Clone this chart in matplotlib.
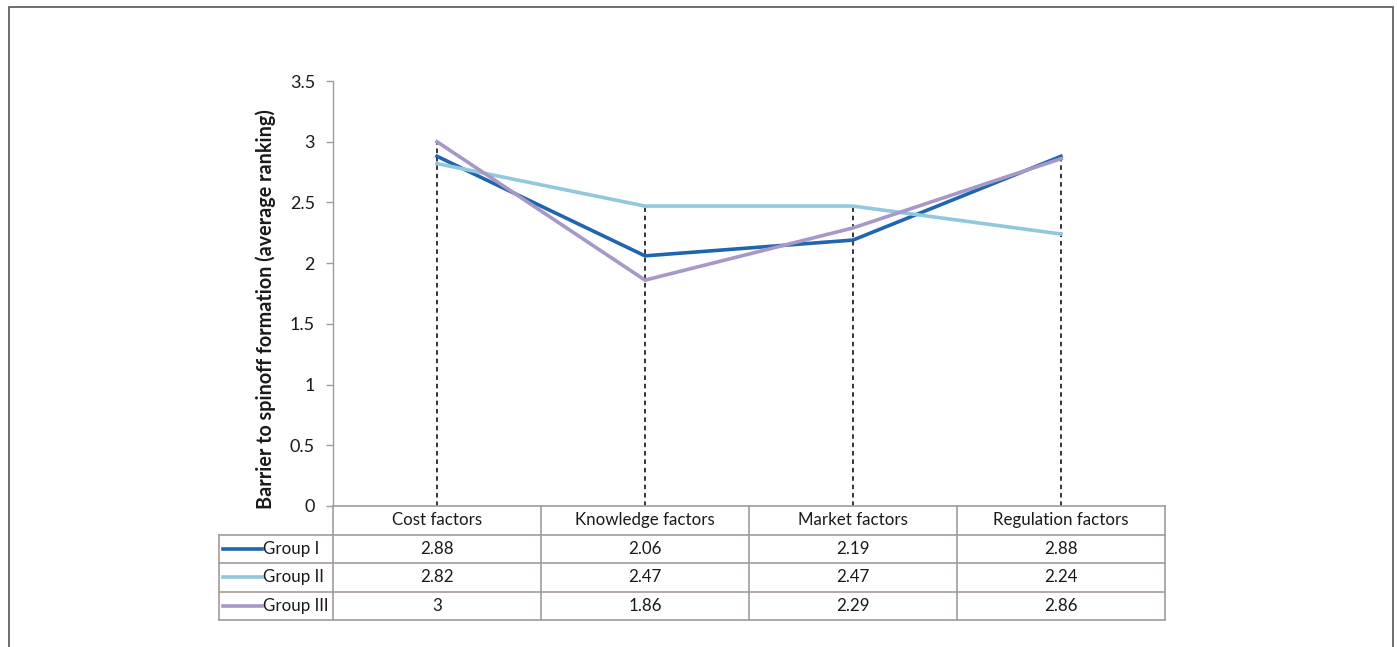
import matplotlib
matplotlib.use("Agg")
import matplotlib.pyplot as plt
from matplotlib.lines import Line2D
from matplotlib.patches import Rectangle

categories = ["Cost factors", "Knowledge factors", "Market factors", "Regulation factors"]
group_names = ["Group I", "Group II", "Group III"]
group_1 = [2.88, 2.06, 2.19, 2.88]
group_2 = [2.82, 2.47, 2.47, 2.24]
group_3 = [3.0, 1.86, 2.29, 2.86]
value_labels = [
    ["2.88", "2.06", "2.19", "2.88"],
    ["2.82", "2.47", "2.47", "2.24"],
    ["3", "1.86", "2.29", "2.86"],
]
y_ticks = [0, 0.5, 1, 1.5, 2, 2.5, 3, 3.5]
y_tick_labels = ["0", "0.5", "1", "1.5", "2", "2.5", "3", "3.5"]

series = [group_1, group_2, group_3]
colors = ["#2066ae", "#92c8dc", "#a898c8"]
grid_color = "#a39b98"
text_color = "#1a1a1a"

plt.rcParams["font.family"] = ["Lato", "DejaVu Sans"]

W, H = 1397, 647
fig = plt.figure(figsize=(W / 100, H / 100), dpi=100)
fig.patch.set_facecolor("white")

# outer frame
fig.add_artist(Rectangle((8.5 / W, -0.05), (1393 - 8.5) / W, 1.05 - 7.5 / H,
                         transform=fig.transFigure, fill=False,
                         edgecolor="#555555", linewidth=1.2))

ax_l, ax_r, ax_t, ax_b = 333, 1165, 81, 506
ax = fig.add_axes([ax_l / W, (H - ax_b) / H, (ax_r - ax_l) / W, (ax_b - ax_t) / H])
ax.set_xlim(-0.5, len(categories) - 0.5)
ax.set_ylim(0, 3.5)

x = list(range(len(categories)))

# dashed drop lines from the highest value at each category
for i in x:
    top = max(s[i] for s in series)
    ax.plot([i, i], [0, top], color="black", linestyle=(0, (3, 2.5)), linewidth=1.1, zorder=1)

for s, c in zip(series, colors):
    ax.plot(x, s, color=c, linewidth=2.6, solid_joinstyle="miter", zorder=3)

for side in ["top", "right", "bottom"]:
    ax.spines[side].set_visible(False)
ax.spines["left"].set_color(grid_color)
ax.spines["left"].set_linewidth(1.0)
ax.set_yticks(y_ticks)
ax.set_yticklabels(y_tick_labels)
ax.tick_params(axis="y", length=5, width=1.0, color=grid_color, labelsize=13,
               labelcolor=text_color, pad=8)
ax.set_xticks([])

# y-axis title
fig.text(266 / W, 1 - 309 / H, "Barrier to spinoff formation (average ranking)",
         rotation=90, ha="center", va="center", fontsize=14.2, fontweight="bold",
         color=text_color)

# data table below the axis
row_h = 28.5 / (ax_b - ax_t)  # in axes fraction
label_left = (219 - ax_l) / (ax_r - ax_l)
n_rows = len(series) + 1
kw = dict(transform=ax.transAxes, clip_on=False, color=grid_color, linewidth=1.2)

# horizontal rules
for r in range(n_rows + 1):
    yy = -r * row_h
    x0 = 0.0 if r == 0 else label_left
    ax.add_line(Line2D([x0, 1.0], [yy, yy], **kw))
# vertical rules
bottom = -n_rows * row_h
ax.add_line(Line2D([label_left, label_left], [-row_h, bottom], **kw))
for k in range(len(categories) + 1):
    xx = k / len(categories)
    ax.add_line(Line2D([xx, xx], [0, bottom], **kw))

txt = dict(transform=ax.transAxes, ha="center", va="center", fontsize=12.2, color=text_color)
for j, cat in enumerate(categories):
    ax.text((j + 0.5) / len(categories), -0.5 * row_h, cat, **txt)
for r, (name, c, labels) in enumerate(zip(group_names, colors, value_labels)):
    yy = -(r + 1.5) * row_h
    lx0 = label_left + 4 / (ax_r - ax_l)
    lx1 = label_left + 43 / (ax_r - ax_l)
    ax.add_line(Line2D([lx0, lx1], [yy, yy], transform=ax.transAxes, clip_on=False,
                       color=c, linewidth=2.6))
    ax.text(lx1 + 1 / (ax_r - ax_l), yy, name, transform=ax.transAxes, ha="left",
            va="center", fontsize=12.2, color=text_color)
    for j, lab in enumerate(labels):
        ax.text((j + 0.5) / len(categories), yy, lab, **txt)

fig.savefig("out.png", dpi=100, facecolor="white")
